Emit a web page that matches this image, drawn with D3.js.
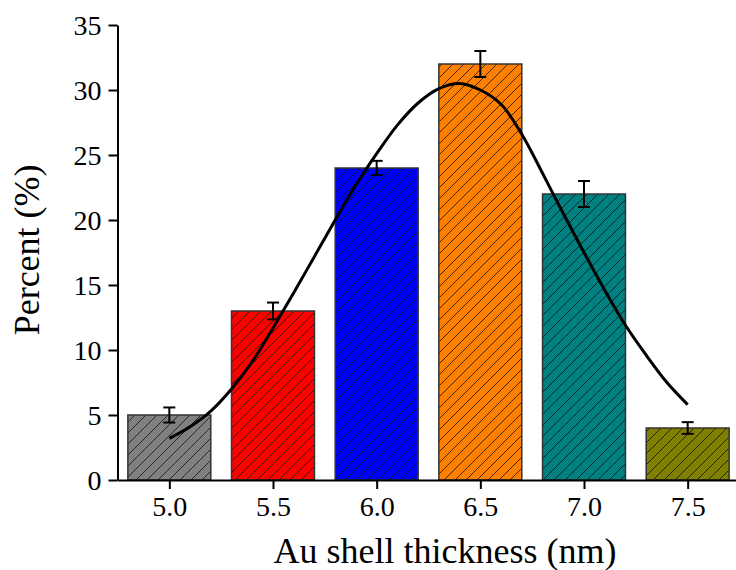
<!DOCTYPE html>
<html lang="en">
<head>
<meta charset="UTF-8">
<title>Au shell thickness distribution</title>
<script src="https://cdnjs.cloudflare.com/ajax/libs/d3/7.8.5/d3.min.js"></script>
<style>
    body { margin: 0; background: #fff; }
    text { font-family: "Liberation Serif", "Times New Roman", serif; fill: #000; }
</style>
</head>
<body>
<svg width="736" height="570"></svg>
<script>
    // bar data
    var thickness = [5.0, 5.5, 6.0, 6.5, 7.0, 7.5];
    var percent = [5, 13, 24, 32, 22, 4];
    var errors = [0.58, 0.65, 0.55, 1.0, 1.0, 0.45];
    var barColors = ["#808080", "#ff0000", "#0000ff", "#ff8000", "#008080", "#808000"];

    // gaussian fit curve
    var fitX = [5.0, 5.1, 5.2, 5.3, 5.4, 5.5, 5.6, 5.7, 5.8, 5.9, 6.0, 6.1, 6.2,
                6.3, 6.4, 6.5, 6.6, 6.7, 6.8, 6.9, 7.0, 7.1, 7.2, 7.3, 7.4, 7.5];
    var fitY = [3.2, 4.1, 5.3, 7.0, 9.1, 11.7, 14.4, 17.2, 20.0, 22.7, 25.1, 27.3, 29.0,
                30.1, 30.5, 30.0, 28.9, 26.6, 23.6, 20.5, 17.5, 14.6, 11.9, 9.6, 7.5, 5.8];

    var xTicks = [5.0, 5.5, 6.0, 6.5, 7.0, 7.5];
    var xMinor = [4.75, 5.25, 5.75, 6.25, 6.75, 7.25, 7.75];
    var yTicks = [0, 5, 10, 15, 20, 25, 30, 35];
    var yMinor = [2.5, 7.5, 12.5, 17.5, 22.5, 27.5, 32.5];

    var svg = d3.select("svg");

    var x = d3.scaleLinear().domain([4.75, 7.75]).range([117.5, 739.5]);
    var y = d3.scaleLinear().domain([0, 35]).range([480, 25]);
    var barW = x(5.4) - x(5.0);

    // hatch pattern
    var defs = svg.append("defs");
    defs.append("pattern")
        .attr("id", "hatch")
        .attr("patternUnits", "userSpaceOnUse")
        .attr("width", 11)
        .attr("height", 11)
        .append("path")
        .attr("d", "M0,11 L11,0 M-2,2 L2,-2 M9,13 L13,9")
        .attr("stroke", "#111")
        .attr("stroke-width", 0.8);

    var bars = svg.selectAll(".bar")
        .data(thickness)
        .enter()
        .append("g")
        .classed("bar", true);

    bars.append("rect")
        .attr("x", function (d) { return x(d) - barW / 2; })
        .attr("y", function (d, i) { return y(percent[i]); })
        .attr("width", barW)
        .attr("height", function (d, i) { return y(0) - y(percent[i]); })
        .style("fill", function (d, i) { return barColors[i]; });

    bars.append("rect")
        .attr("x", function (d) { return x(d) - barW / 2; })
        .attr("y", function (d, i) { return y(percent[i]); })
        .attr("width", barW)
        .attr("height", function (d, i) { return y(0) - y(percent[i]); })
        .style("fill", "url(#hatch)")
        .style("stroke", "#333")
        .style("stroke-width", 1.5);

    // error bars
    var err = svg.append("g")
        .attr("stroke", "#000")
        .attr("stroke-width", 2);
    thickness.forEach(function (d, i) {
        var top = y(percent[i] + errors[i]), bot = y(percent[i] - errors[i]);
        err.append("line").attr("x1", x(d)).attr("x2", x(d)).attr("y1", top).attr("y2", bot);
        err.append("line").attr("x1", x(d) - 6).attr("x2", x(d) + 6).attr("y1", top).attr("y2", top);
        err.append("line").attr("x1", x(d) - 6).attr("x2", x(d) + 6).attr("y1", bot).attr("y2", bot);
    });

    // fit curve
    var line = d3.line()
        .x(function (d) { return x(d); })
        .y(function (d, i) { return y(fitY[i]); })
        .curve(d3.curveCatmullRom);
    svg.append("path")
        .attr("d", line(fitX))
        .attr("fill", "none")
        .attr("stroke", "#000")
        .attr("stroke-width", 3);

    // axes
    var xAxis = svg.append("g").attr("transform", "translate(0," + y(0) + ")");
    xAxis.call(d3.axisBottom(x).tickValues(xMinor).tickSize(5).tickFormat(""));
    xAxis.call(d3.axisBottom(x).tickValues(xTicks).tickSize(9).tickSizeOuter(0)
        .tickFormat(d3.format(".1f")));
    var yAxis = svg.append("g").attr("transform", "translate(" + x(4.75) + ",0)");
    yAxis.call(d3.axisLeft(y).tickValues(yMinor).tickSize(5).tickFormat(""));
    yAxis.call(d3.axisLeft(y).tickValues(yTicks).tickSize(9).tickSizeOuter(0));

    svg.selectAll(".domain").attr("stroke", "#000").attr("stroke-width", 2);
    svg.selectAll(".tick line").attr("stroke", "#000").attr("stroke-width", 2);
    svg.selectAll(".tick text")
        .style("font-family", "'Liberation Serif', serif")
        .style("font-size", "28px")
        .attr("fill", "#000");
    xAxis.selectAll(".tick text").attr("y", 16);
    yAxis.selectAll(".tick text").attr("x", -16).attr("dy", "0.33em");

    // titles
    svg.append("text")
        .attr("x", 445)
        .attr("y", 563)
        .attr("text-anchor", "middle")
        .style("font-size", "36px")
        .text("Au shell thickness (nm)");

    svg.append("text")
        .attr("transform", "translate(39," + y(17.7) + ") rotate(-90)")
        .attr("text-anchor", "middle")
        .style("font-size", "36px")
        .text("Percent (%)");
</script>
</body>
</html>
